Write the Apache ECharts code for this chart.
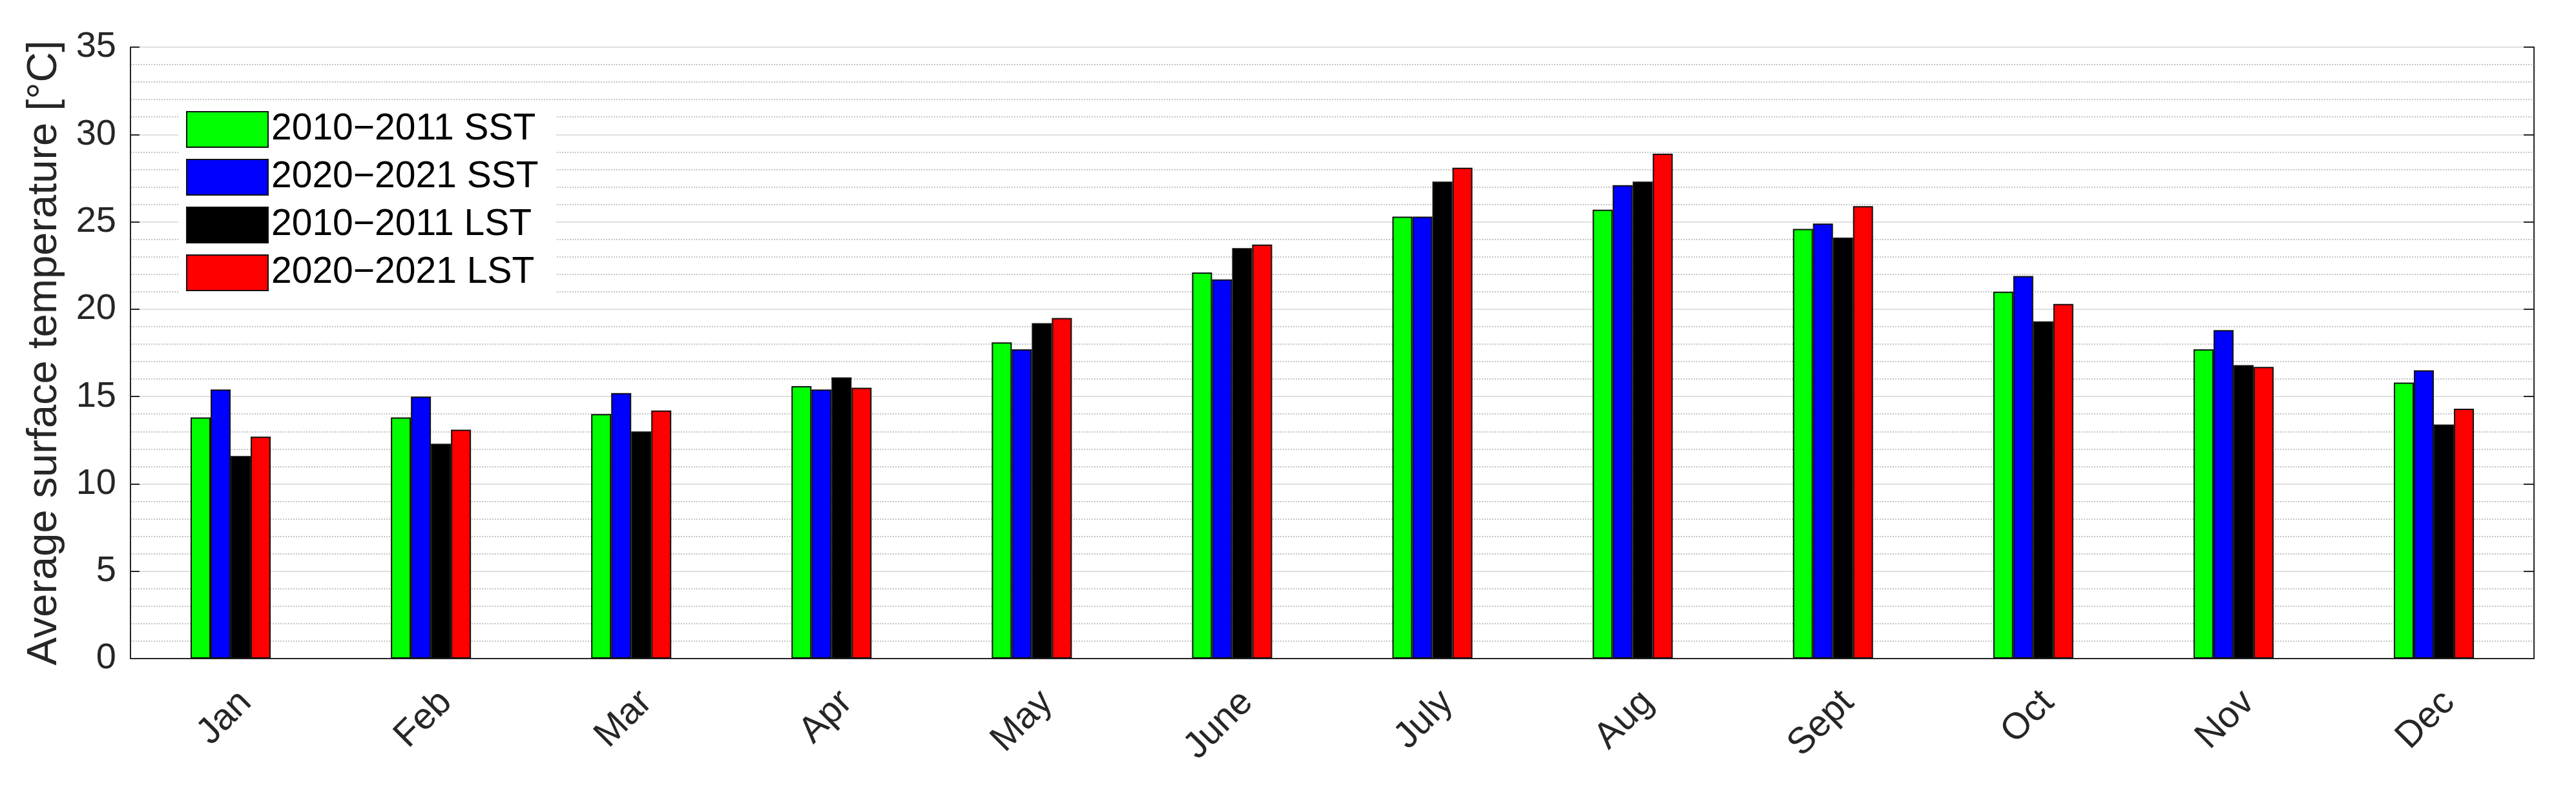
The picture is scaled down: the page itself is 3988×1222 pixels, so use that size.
<!DOCTYPE html>
<html>
<head>
<meta charset="utf-8">
<script src="https://cdn.jsdelivr.net/npm/echarts@6/dist/echarts.min.js"></script>
<style>
  html, body { margin: 0; padding: 0; background: #fff; }
  #chart { width: 3988px; height: 1222px; }
</style>
</head>
<body>
<div id="chart"></div>
<script>
// months
const months = ["Jan", "Feb", "Mar", "Apr", "May", "June", "July", "Aug", "Sept", "Oct", "Nov", "Dec"];

// average surface temperature [°C]
const sst2010 = [13.8, 13.8, 14.0, 15.6, 18.1, 22.1, 25.3, 25.7, 24.6, 21.0, 17.7, 15.8];
const sst2020 = [15.4, 15.0, 15.2, 15.4, 17.7, 21.7, 25.3, 27.1, 24.9, 21.9, 18.8, 16.5];
const lst2010 = [11.6, 12.3, 13.0, 16.1, 19.2, 23.5, 27.3, 27.3, 24.1, 19.3, 16.8, 13.4];
const lst2020 = [12.7, 13.1, 14.2, 15.5, 19.5, 23.7, 28.1, 28.9, 25.9, 20.3, 16.7, 14.3];

const seriesNames = ["2010\u22122011 SST", "2020\u22122021 SST", "2010\u22122011 LST", "2020\u22122021 LST"];
const seriesColors = ["#00ff00", "#0000ff", "#000000", "#ff0000"];

const yMin = 0;
const yMax = 35;
const yStep = 5;

const font = "'Liberation Sans', Arial, Helvetica, sans-serif";
const axisColor = "#262626";

const chart = echarts.init(document.getElementById("chart"));

const makeBar = (name, data, color) => ({
  name: name,
  type: "bar",
  data: data,
  barWidth: "10%",
  barGap: "0%",
  itemStyle: {
    color: color,
    borderColor: "#111",
    borderWidth: 2,
  },
});

const option = {
  animation: false,
  backgroundColor: "#fff",
  grid: {
    left: 202,
    right: 65,
    top: 73,
    bottom: 202,
  },
  legend: {
    orient: "vertical",
    left: 276,
    top: 160,
    padding: [12, 27, 12, 12],
    backgroundColor: "#fff",
    itemWidth: 126,
    itemHeight: 55,
    itemGap: 17,
    icon: "rect",
    textStyle: {
      fontFamily: font,
      fontSize: 57,
      color: "#000",
    },
    data: seriesNames,
  },
  xAxis: [
    {
      type: "category",
      data: months,
      position: "bottom",
      axisLine: { lineStyle: { color: axisColor, width: 2 } },
      axisTick: { inside: true, alignWithLabel: true, length: 18, lineStyle: { color: axisColor, width: 2 } },
      axisLabel: {
        rotate: 45,
        margin: 36,
        verticalAlign: "top",
        lineHeight: 66,
        fontFamily: font,
        fontSize: 57,
        color: axisColor,
      },
      splitLine: { show: false },
    },
    {
      type: "category",
      data: months,
      position: "top",
      axisLine: { lineStyle: { color: axisColor, width: 2 } },
      axisTick: { inside: true, alignWithLabel: true, length: 20, lineStyle: { color: axisColor, width: 2 } },
      axisLabel: { show: false },
      splitLine: { show: false },
    },
  ],
  yAxis: [
    {
      type: "value",
      min: yMin,
      max: yMax,
      interval: yStep,
      position: "left",
      name: "Average surface temperature [\u00b0C]",
      nameLocation: "middle",
      nameGap: 100,
      nameTextStyle: {
        fontFamily: font,
        fontSize: 65,
        color: axisColor,
      },
      axisLine: { show: true, lineStyle: { color: axisColor, width: 2 } },
      axisTick: { show: true, inside: true, length: 14, lineStyle: { color: axisColor, width: 2 } },
      axisLabel: {
        margin: 22,
        fontFamily: font,
        fontSize: 56,
        color: axisColor,
      },
      splitLine: { show: true, lineStyle: { color: "#e0e0e0", width: 2 } },
      minorTick: { show: false, splitNumber: 5 },
      minorSplitLine: { show: true, lineStyle: { color: "#c4c4c4", width: 2, type: [2, 2] } },
    },
    {
      type: "value",
      min: yMin,
      max: yMax,
      interval: yStep,
      position: "right",
      axisLine: { show: true, lineStyle: { color: axisColor, width: 2 } },
      axisTick: { show: true, inside: true, length: 16, lineStyle: { color: axisColor, width: 2 } },
      axisLabel: { show: false },
      splitLine: { show: false },
    },
  ],
  series: [
    makeBar(seriesNames[0], sst2010, seriesColors[0]),
    makeBar(seriesNames[1], sst2020, seriesColors[1]),
    makeBar(seriesNames[2], lst2010, seriesColors[2]),
    makeBar(seriesNames[3], lst2020, seriesColors[3]),
  ],
};

chart.setOption(option);
</script>
</body>
</html>
